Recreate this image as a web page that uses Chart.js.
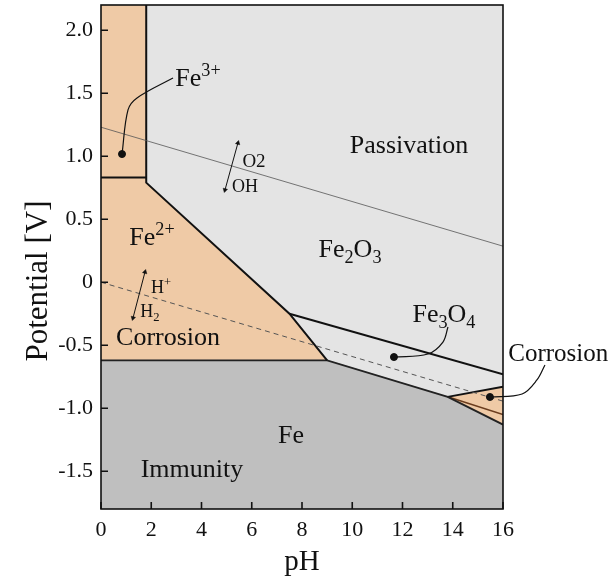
<!DOCTYPE html>
<html lang="en">
<head>
<meta charset="UTF-8">
<title>Pourbaix diagram of iron</title>
<script src="https://cdn.jsdelivr.net/npm/chart.js"></script>
<style>
  html, body { margin: 0; padding: 0; background: #fff; }
  #wrap { width: 612px; height: 581px; }
</style>
</head>
<body>
<div id="wrap"><canvas id="pourbaix" width="612" height="581"></canvas></div>
<script>
// axis ticks
const xTicks = [0, 2, 4, 6, 8, 10, 12, 14, 16];
const yTicks = [2.0, 1.5, 1.0, 0.5, 0, -0.5, -1.0, -1.5];
const yTickLabels = ['2.0', '1.5', '1.0', '0.5', '0', '-0.5', '-1.0', '-1.5'];

// stability regions, corners as [pH, E]
const fe3Region = [[0, 0.83], [0, 2.2], [1.8, 2.2], [1.8, 0.83]];
const fe2Region = [[0, -0.62], [0, 0.83], [1.8, 0.83], [1.8, 0.79], [7.5, -0.25], [9, -0.62]];
const fe2o3Region = [[1.8, 2.2], [16, 2.2], [16, -0.73], [7.5, -0.25], [1.8, 0.79]];
const fe3o4Region = [[7.5, -0.25], [16, -0.73], [16, -0.83], [13.8, -0.91], [9, -0.62]];
const hfeo2Region = [[13.8, -0.91], [16, -0.83], [16, -1.13]];
const feRegion = [[0, -1.8], [0, -0.62], [9, -0.62], [13.8, -0.91], [16, -1.13], [16, -1.8]];

// boundaries
const fe3Floor = [[0, 0.83], [1.8, 0.83]];
const oxideWall = [[1.8, 2.2], [1.8, 0.79], [7.5, -0.25], [9, -0.62]];
const magnetiteTop = [[7.5, -0.25], [16, -0.73]];
const ironTop = [[0, -0.62], [9, -0.62], [13.8, -0.91], [16, -1.13]];
const hfeo2Top = [[13.8, -0.91], [16, -0.83]];
const hfeo2Inner = [[13.8, -0.91], [16, -1.05]];

// water stability lines
const oxygenLine = [[0, 1.23], [16, 0.286]];
const hydrogenLine = [[0, 0], [16, -0.944]];

// annotations
const dots = [[0.836, 1.017], [11.66, -0.594], [15.48, -0.911]];
const leaderFe3 = [[0.836, 1.017], [1.075, 1.367], [1.433, 1.462], [2.866, 1.621]];
const leaderFe3o4 = [[11.66, -0.594], [13.01, -0.570], [13.61, -0.475], [13.81, -0.356]];
const leaderCorr = [[17.67, -0.657], [17.35, -0.776], [16.76, -0.887], [15.48, -0.911]];
const arrowO2 = [[5.45, 1.105], [4.935, 0.732]];
const arrowH = [[1.751, 0.081], [1.274, -0.284]];

const labels = [
  { parts: [['Passivation']], x: 12.26, y: 1.025, size: 26 },
  { parts: [['Fe'], ['2', 'sub'], ['O'], ['3', 'sub']], x: 9.91, y: 0.20, size: 26 },
  { parts: [['Fe'], ['2+', 'sup']], x: 2.03, y: 0.295, size: 26 },
  { parts: [['Fe'], ['3+', 'sup']], x: 3.86, y: 1.557, size: 26 },
  { parts: [['Fe'], ['3', 'sub'], ['O'], ['4', 'sub']], x: 13.65, y: -0.316, size: 26 },
  { parts: [['Corrosion']], x: 2.67, y: -0.498, size: 26 },
  { parts: [['Corrosion']], x: 18.2, y: -0.625, size: 25 },
  { parts: [['Fe']], x: 7.56, y: -1.276, size: 26 },
  { parts: [['Immunity']], x: 3.62, y: -1.546, size: 26 },
  { parts: [['O2']], x: 6.09, y: 0.914, size: 19 },
  { parts: [['OH']], x: 5.73, y: 0.716, size: 18 },
  { parts: [['H'], ['+', 'sup']], x: 2.39, y: -0.086, size: 18 },
  { parts: [['H'], ['2', 'sub']], x: 1.95, y: -0.276, size: 18 }
];

const PEACH = '#efcaa6';
const LIGHT = '#e4e4e4';
const DARK = '#bfbfbf';
const SERIF = '"Liberation Serif", "DejaVu Serif", serif';

const pts = a => a.map(([x, y]) => ({ x, y }));

function region(data, color) {
  return { data: pts(data), showLine: true, fill: 'shape', backgroundColor: color,
    borderColor: color, borderWidth: 1, pointRadius: 0, order: 10 };
}
function edge(data, color, width, dash) {
  return { data: pts(data), showLine: true, fill: false, borderColor: color,
    borderWidth: width, borderDash: dash || [], pointRadius: 0, order: 5 };
}
function leader(data) {
  return { data: pts(data), showLine: true, fill: false, borderColor: '#111',
    borderWidth: 1.2, tension: 0.35, pointRadius: 0, clip: false, order: 2 };
}
function arrow(data) {
  return { data: pts(data), showLine: true, fill: false, borderColor: '#111', borderWidth: 1,
    pointStyle: 'triangle', pointRadius: 2.6, pointRotation: [15, 195],
    pointBackgroundColor: '#111', pointBorderColor: '#111', pointBorderWidth: 0.5, order: 2 };
}

function drawRich(ctx, parts, cx, by, size) {
  const small = size * 0.7;
  let w = 0;
  parts.forEach(p => {
    ctx.font = (p[1] ? small : size) + 'px ' + SERIF;
    w += ctx.measureText(p[0]).width;
  });
  let x = cx - w / 2;
  parts.forEach(p => {
    ctx.font = (p[1] ? small : size) + 'px ' + SERIF;
    const dy = p[1] === 'sup' ? -size * 0.4 : p[1] === 'sub' ? size * 0.22 : 0;
    ctx.fillText(p[0], x, by + dy);
    x += ctx.measureText(p[0]).width;
  });
}

const decor = {
  id: 'decor',
  afterDatasetsDraw(chart) {
    const { ctx, scales: { x, y } } = chart;
    ctx.save();
    ctx.fillStyle = '#111';
    ctx.textBaseline = 'alphabetic';
    ctx.textAlign = 'left';
    labels.forEach(l => drawRich(ctx, l.parts, x.getPixelForValue(l.x), y.getPixelForValue(l.y), l.size));
    ctx.restore();
  },
  afterDraw(chart) {
    const { ctx, chartArea: a, scales: { x, y } } = chart;
    ctx.save();
    ctx.strokeStyle = '#111';
    ctx.lineWidth = 1.6;
    ctx.strokeRect(a.left, a.top, a.right - a.left, a.bottom - a.top);
    ctx.beginPath();
    xTicks.forEach(v => {
      const px = x.getPixelForValue(v);
      ctx.moveTo(px, a.bottom); ctx.lineTo(px, a.bottom - 7);
    });
    yTicks.forEach(v => {
      const py = y.getPixelForValue(v);
      ctx.moveTo(a.left, py); ctx.lineTo(a.left + 7, py);
    });
    ctx.stroke();

    // axis titles
    ctx.fillStyle = '#111';
    ctx.textAlign = 'center';
    ctx.textBaseline = 'middle';
    ctx.font = '29px ' + SERIF;
    ctx.fillText('pH', (a.left + a.right) / 2, 562);
    ctx.translate(39, 281);
    ctx.rotate(-Math.PI / 2);
    ctx.font = '31px ' + SERIF;
    ctx.fillText('Potential [V]', 0, 0);
    ctx.restore();
  }
};

new Chart(document.getElementById('pourbaix'), {
  type: 'scatter',
  data: {
    datasets: [
      region(feRegion, DARK),
      region(fe2Region, PEACH),
      region(fe3Region, PEACH),
      region(fe2o3Region, LIGHT),
      region(fe3o4Region, LIGHT),
      region(hfeo2Region, PEACH),
      edge(oxygenLine, '#555', 0.8),
      edge(hydrogenLine, '#555', 1, [5, 4]),
      edge(fe3Floor, '#111', 2),
      edge(oxideWall, '#111', 2),
      edge(magnetiteTop, '#111', 2),
      edge(ironTop, '#222', 1.8),
      edge(hfeo2Top, '#111', 2),
      edge(hfeo2Inner, '#6b3d1e', 1.6),
      leader(leaderFe3),
      leader(leaderFe3o4),
      leader(leaderCorr),
      arrow(arrowO2),
      arrow(arrowH),
      { data: pts(dots), showLine: false, pointRadius: 3.5, pointBackgroundColor: '#111',
        pointBorderColor: '#111', order: 1 }
    ]
  },
  options: {
    responsive: false,
    animation: false,
    layout: { padding: { top: 5, right: 109, left: 0, bottom: 0 } },
    plugins: { legend: { display: false }, tooltip: { enabled: false } },
    scales: {
      x: {
        type: 'linear', min: 0, max: 16,
        afterBuildTicks: s => { s.ticks = xTicks.map(v => ({ value: v })); },
        afterFit: s => { s.height = 72; s.paddingLeft = 0; s.paddingRight = 0; },
        grid: { display: false, drawTicks: false },
        border: { display: false },
        ticks: { padding: 8, color: '#111', font: { family: SERIF, size: 22 }, maxRotation: 0 }
      },
      y: {
        type: 'linear', min: -1.8, max: 2.2,
        afterBuildTicks: s => { s.ticks = yTicks.map(v => ({ value: v })); },
        afterFit: s => { s.width = 101; s.paddingTop = 0; s.paddingBottom = 0; },
        grid: { display: false, drawTicks: false },
        border: { display: false },
        ticks: { padding: 8, color: '#111', font: { family: SERIF, size: 22 },
          callback: v => yTickLabels[yTicks.indexOf(v)] }
      }
    }
  },
  plugins: [decor]
});
</script>
</body>
</html>
